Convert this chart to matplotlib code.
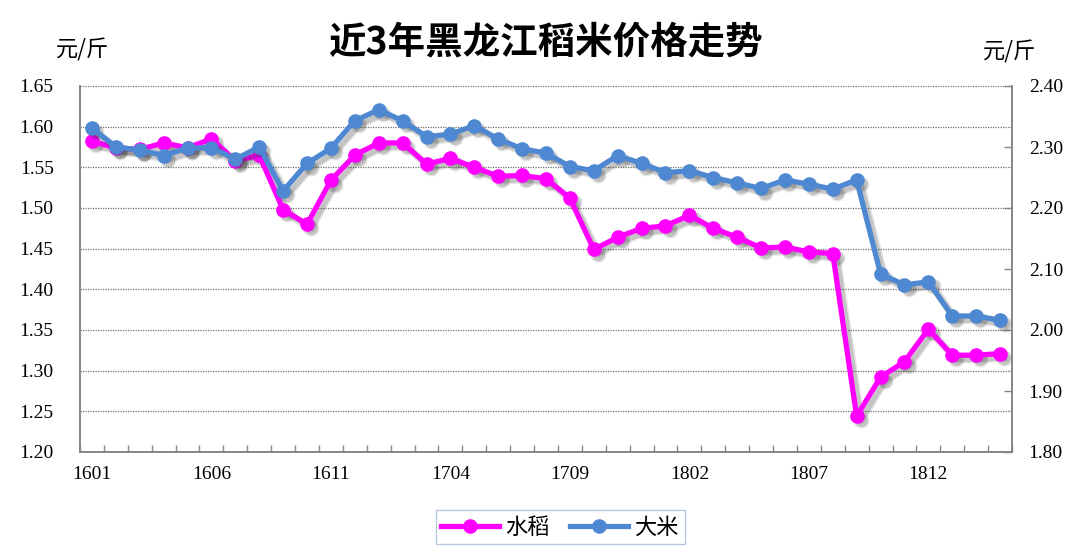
import matplotlib
matplotlib.use("Agg")
import matplotlib.pyplot as plt
import matplotlib.transforms as mtransforms
from matplotlib.lines import Line2D

plt.rcParams['font.family'] = ['Noto Sans CJK SC', 'DejaVu Sans']

months = ['1601', '1602', '1603', '1604', '1605', '1606', '1607', '1608', '1609', '1610', '1611', '1612',
          '1701', '1702', '1703', '1704', '1705', '1706', '1707', '1708', '1709', '1710', '1711', '1712',
          '1801', '1802', '1803', '1804', '1805', '1806', '1807', '1808', '1809', '1810', '1811', '1812',
          '1901', '1902', '1903']

paddy = [1.582, 1.574, 1.572, 1.580, 1.574, 1.585, 1.558, 1.565, 1.498, 1.480, 1.534, 1.565,
         1.580, 1.580, 1.554, 1.561, 1.550, 1.539, 1.540, 1.536, 1.512, 1.449, 1.464, 1.475,
         1.478, 1.491, 1.475, 1.464, 1.451, 1.452, 1.446, 1.444, 1.244, 1.292, 1.311, 1.351,
         1.319, 1.319, 1.321]

rice = [2.331, 2.300, 2.295, 2.286, 2.298, 2.299, 2.280, 2.300, 2.228, 2.273, 2.298, 2.343,
        2.361, 2.343, 2.317, 2.321, 2.335, 2.313, 2.297, 2.290, 2.268, 2.261, 2.286, 2.273,
        2.258, 2.261, 2.250, 2.241, 2.232, 2.246, 2.239, 2.231, 2.246, 2.092, 2.074, 2.079,
        2.023, 2.023, 2.016]

left_ticks = [1.20, 1.25, 1.30, 1.35, 1.40, 1.45, 1.50, 1.55, 1.60, 1.65]
right_ticks = [1.80, 1.90, 2.00, 2.10, 2.20, 2.30, 2.40]

PINK = '#FF00FF'
BLUE = '#4F88D2'
GRAY = '#868686'

fig = plt.figure(figsize=(10.8, 5.54), dpi=100)
ax = fig.add_axes([80/1080, 1-452/554, (1012-80)/1080, (452-86)/554])
ax2 = ax.twinx()

x = list(range(len(months)))


def draw_series(a, ys, color):
    # soft drop shadow (two offset layers), then the series itself
    for dx, alpha, extra in ((3, 0.12, 2.0), (3, 0.18, 0.0)):
        tr = mtransforms.offset_copy(a.transData, fig=fig, x=dx, y=-dx, units='points')
        a.plot(x, ys, color='#303030', alpha=alpha, lw=3.8 + extra, marker='o', ms=9.5 + extra,
               mec='none', transform=tr, zorder=2)
    a.plot(x, ys, color=color, lw=3.8, marker='o', ms=9.5, mec=color, zorder=3)


draw_series(ax, paddy, PINK)
draw_series(ax2, rice, BLUE)

ax.set_xlim(-0.5, len(months) - 0.5)
ax.set_ylim(1.20, 1.65)
ax2.set_ylim(1.80, 2.40)

ax.set_yticks(left_ticks)
ax.set_yticklabels(['%.2f' % v for v in left_ticks], fontfamily='Liberation Serif', fontsize=14)
ax.tick_params(axis='y', length=0, pad=19, colors='#000000')
for v in left_ticks[1:]:
    ax.axhline(v, color='#707070', lw=0.9, ls=(0, (1, 1)), zorder=1)

ax2.set_yticks(right_ticks)
ax2.set_yticklabels(['%.2f' % v for v in right_ticks], fontfamily='Liberation Serif', fontsize=14)
ax2.tick_params(axis='y', direction='in', length=6, width=1, color=GRAY, pad=12)

ax.set_xticks([i - 0.5 for i in range(len(months) + 1)])
ax.set_xticklabels([])
ax.tick_params(axis='x', which='major', direction='in', length=5, width=1, color=GRAY)
ax.set_xticks(x[::5], minor=True)
ax.set_xticklabels(months[::5], minor=True, fontfamily='Liberation Serif', fontsize=14)
ax.tick_params(axis='x', which='minor', length=0, pad=10)

for a in (ax, ax2):
    a.spines['top'].set_visible(False)
    for s in ('left', 'right', 'bottom'):
        a.spines[s].set_color(GRAY)
        a.spines[s].set_linewidth(1.2)

ax2.set_zorder(ax.get_zorder() + 1)

fig.text(545/1080, 1-42/554, '近3年黑龙江稻米价格走势', ha='center', va='center',
         fontsize=27, fontweight='bold')
fig.text(83/1080, 1-50/554, '元/斤', ha='center', va='center', fontsize=16)
fig.text(1010/1080, 1-52/554, '元/斤', ha='center', va='center', fontsize=16)

handles = [Line2D([], [], color=PINK, lw=3.8, marker='o', ms=9.5),
           Line2D([], [], color=BLUE, lw=3.8, marker='o', ms=9.5)]
leg = fig.legend(handles, ['水稻', '大米'], loc='center', bbox_to_anchor=(560/1080, 1-527/554),
                 ncol=2, frameon=True, fancybox=False, fontsize=16, handlelength=2.6,
                 handletextpad=0.3, columnspacing=0.9, borderpad=0.25)
leg.get_frame().set_edgecolor('#A6BCD8')
leg.get_frame().set_linewidth(1.0)

fig.savefig('out.png', dpi=100)
